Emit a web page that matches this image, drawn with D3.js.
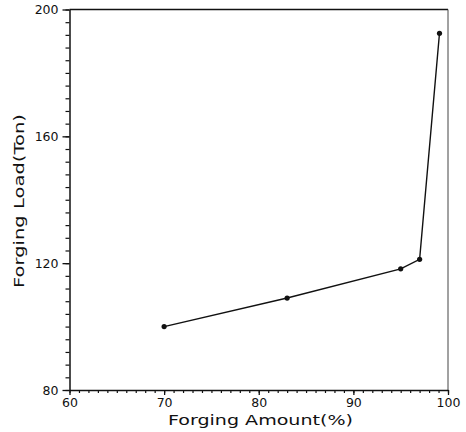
<!DOCTYPE html>
<html><head><meta charset="utf-8">
<script src="https://cdn.jsdelivr.net/npm/d3@7"></script>
<style>html,body{margin:0;padding:0;background:#fff;}svg{display:block;}</style>
</head><body>
<script>
const forgingAmount = [70, 83, 95, 97, 99.1];
const forgingLoad = [100, 109, 118.2, 121.2, 192.5];
const xTicks = [60, 70, 80, 90, 100];
const yTicks = [80, 120, 160, 200];
const xTitle = "Forging Amount(%)";
const yTitle = "Forging Load(Ton)";

const W = 466, H = 432;
const svg = d3.select("body").append("svg").attr("width", W).attr("height", H);
const x = d3.scaleLinear().domain([60, 100]).range([69.5, 448]);
const y = d3.scaleLinear().domain([80, 200]).range([390, 9.5]);
const font = "DejaVu Sans, sans-serif";

// frame top & right
svg.append("line").attr("x1", x(60)).attr("x2", x(100)).attr("y1", y(200)).attr("y2", y(200))
  .attr("stroke", "#111").attr("stroke-width", 1.3);
svg.append("line").attr("x1", x(100)).attr("x2", x(100)).attr("y1", y(200)).attr("y2", y(80))
  .attr("stroke", "#444").attr("stroke-width", 1);

// x minor ticks
svg.append("g").attr("transform", `translate(0,${y(80)})`)
  .call(d3.axisBottom(x).tickValues(d3.range(60, 101, 1)).tickSize(3).tickFormat(""))
  .call(g => g.select(".domain").remove())
  .call(g => g.selectAll("line").attr("stroke", "#111").attr("stroke-width", 1.2));
// x major
svg.append("g").attr("transform", `translate(0,${y(80)})`)
  .call(d3.axisBottom(x).tickValues(xTicks).tickSize(5).tickPadding(3).tickSizeOuter(0))
  .call(g => g.select(".domain").attr("stroke", "#111").attr("stroke-width", 1.5))
  .call(g => g.selectAll("line").attr("stroke", "#111").attr("stroke-width", 1.3))
  .call(g => g.selectAll("text").attr("font-family", font).attr("font-size", 12.5).attr("fill", "#111"));

// y minor ticks
svg.append("g").attr("transform", `translate(${x(60)},0)`)
  .call(d3.axisLeft(y).tickValues(d3.range(80, 201, 4)).tickSize(4).tickFormat(""))
  .call(g => g.select(".domain").remove())
  .call(g => g.selectAll("line").attr("stroke", "#111").attr("stroke-width", 1.2));
// y major
svg.append("g").attr("transform", `translate(${x(60)},0)`)
  .call(d3.axisLeft(y).tickValues(yTicks).tickSize(7).tickPadding(4).tickSizeOuter(0))
  .call(g => g.select(".domain").attr("stroke", "#111").attr("stroke-width", 1.5))
  .call(g => g.selectAll("line").attr("stroke", "#111").attr("stroke-width", 1.3))
  .call(g => g.selectAll("text").attr("font-family", font).attr("font-size", 12.5).attr("fill", "#111"));

// line
const data = forgingAmount.map((d, i) => [d, forgingLoad[i]]);
svg.append("path").datum(data)
  .attr("d", d3.line().x(d => x(d[0])).y(d => y(d[1])))
  .attr("fill", "none").attr("stroke", "#111").attr("stroke-width", 1.4);
svg.selectAll("circle.pt").data(data).enter().append("circle")
  .attr("class", "pt").attr("cx", d => x(d[0])).attr("cy", d => y(d[1]))
  .attr("r", 2.6).attr("fill", "#111");

// titles
svg.append("text").attr("x", 168).attr("y", 425)
  .attr("font-family", font).attr("font-size", 14).attr("fill", "#111")
  .attr("textLength", 185).attr("lengthAdjust", "spacingAndGlyphs")
  .text(xTitle);
svg.append("text").attr("transform", "translate(24,288) rotate(-90)")
  .attr("font-family", font).attr("font-size", 14).attr("fill", "#111")
  .attr("textLength", 174).attr("lengthAdjust", "spacingAndGlyphs")
  .text(yTitle);
</script>
</body></html>
